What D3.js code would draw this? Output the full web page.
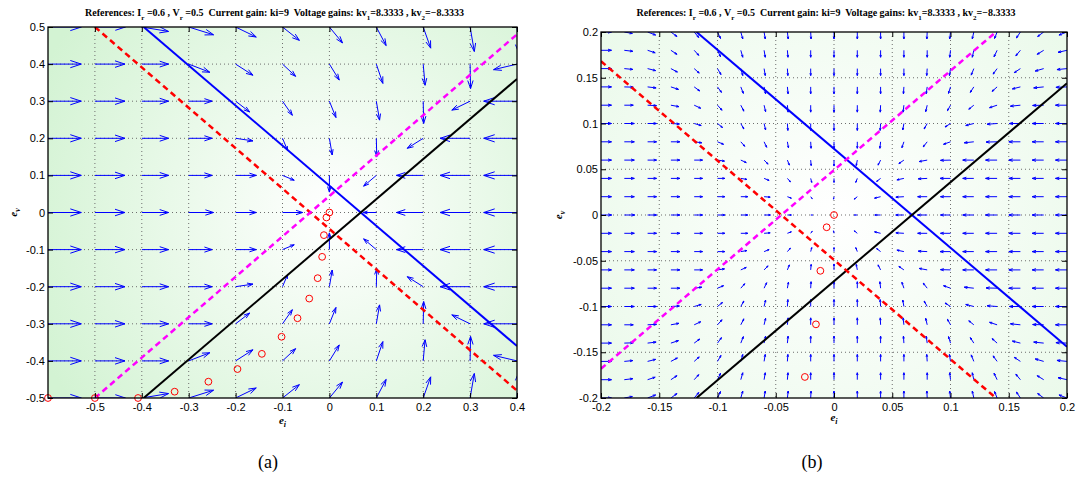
<!DOCTYPE html>
<html>
<head>
<meta charset="utf-8">
<script src="https://cdn.jsdelivr.net/npm/d3@7/dist/d3.min.js"></script>
<style>
  body { margin: 0; background: #ffffff; }
  svg { display: block; }
  text { white-space: pre; }
</style>
</head>
<body>
<svg id="fig" width="1076" height="477"></svg>
<script>
// ---------------------------------------------------------------
// Phase-plane data (error coordinates e_i, e_v)
// ---------------------------------------------------------------

// Panel (a): wide view
const xTicksA = [-0.5, -0.4, -0.3, -0.2, -0.1, 0, 0.1, 0.2, 0.3, 0.4];
const yTicksA = [-0.5, -0.4, -0.3, -0.2, -0.1, 0, 0.1, 0.2, 0.3, 0.4, 0.5];
const gridXA = [-0.6, -0.5, -0.4, -0.3, -0.2, -0.1, 0, 0.1, 0.2, 0.3, 0.4];
const gridYA = [0.5, 0.4, 0.3, 0.2, 0.1, 0, -0.1, -0.2, -0.3, -0.4, -0.5];
// field components at the grid nodes (units of 0.01), rows top to bottom
const fieldUA = [
  [7.1, 6.5, 5.7, 5.3, 4.4, 3.6, 2.8, 2.1, 1.6, 0.9, 0.4],
  [7.1, 6.4, 5.7, 4.5, 3.7, 2.8, 2.1, 1.4, 0.4, 0.1, -5.0],
  [7.1, 6.4, 5.7, 5.0, 3.0, 2.1, 1.4, 0.7, 0.1, -3.9, -7.1],
  [7.1, 6.4, 5.7, 5.0, 3.7, 1.1, 0.6, 0.1, -3.4, -6.4, -7.1],
  [7.1, 6.4, 5.7, 5.0, 4.4, 2.5, 0, -2.7, -5.7, -6.4, -7.1],
  [7.1, 6.4, 5.7, 5.3, 4.4, 4.3, 0, -2.8, -5.7, -6.4, -7.1],
  [7.1, 6.4, 5.7, 5.0, 4.4, 2.5, 0, -2.7, -5.7, -6.4, -7.1],
  [7.1, 6.4, 5.7, 5.0, 3.7, 1.1, 0.6, 0.1, -3.4, -6.4, -7.1],
  [7.1, 6.4, 5.7, 5.0, 3.0, 2.1, 1.4, 0.7, 0.1, -3.9, -7.1],
  [7.1, 6.4, 5.7, 4.5, 3.7, 2.8, 2.1, 1.4, 0.4, 0.1, -5.0],
  [7.1, 6.5, 5.7, 5.3, 4.4, 3.6, 2.8, 2.1, 1.6, 0.9, 0.4]
];
const fieldVA = [
  [0, 0, -1.2, -2.1, -2.7, -3.6, -4.3, -5.0, -5.7, -6.6, -7.0],
  [0, 0, 0, -2.2, -3.0, -3.3, -4.3, -5.2, -5.7, -6.6, -1.5],
  [0, 0, 0, 0, -2.9, -3.8, -4.4, -5.1, -6.0, -2.4, 0],
  [0, 0, 0, 0, -0.7, -3.3, -4.5, -4.9, -2.7, 0, 0],
  [0, 0, 0, 0, 0, -1.3, -4.5, -2.9, 0, 0, 0],
  [0, 0, 0, 0, 0, 0, 0, 0, 0, 0, 0],
  [0, 0, 0, 0, 0, 1.3, 4.5, 2.9, 0, 0, 0],
  [0, 0, 0, 0, 0.7, 3.3, 4.5, 4.9, 2.7, 0, 0],
  [0, 0, 0, 0, 2.9, 3.8, 4.4, 5.1, 6.0, 2.4, 0],
  [0, 0, 0, 2.2, 3.0, 3.3, 4.3, 5.2, 5.7, 6.6, 1.5],
  [0, 0, 1.2, 2.1, 2.7, 3.6, 4.3, 5.0, 5.7, 6.6, 7.0]
];

// Panel (b): close-up around the origin
const xTicksB = [-0.2, -0.15, -0.1, -0.05, 0, 0.05, 0.1, 0.15, 0.2];
const yTicksB = [-0.2, -0.15, -0.1, -0.05, 0, 0.05, 0.1, 0.15, 0.2];
const gridXB = [-0.2, -0.18, -0.16, -0.14, -0.12, -0.1, -0.08, -0.06, -0.04, -0.02, 0,
                0.02, 0.04, 0.06, 0.08, 0.1, 0.12, 0.14, 0.16, 0.18, 0.2];
const gridYB = [0.2, 0.18, 0.16, 0.14, 0.12, 0.1, 0.08, 0.06, 0.04, 0.02, 0,
                -0.02, -0.04, -0.06, -0.08, -0.1, -0.12, -0.14, -0.16, -0.18, -0.2];
// field components (units of 0.001), rows top to bottom
const fieldUB = [
  [9.0, 6.9, 6.9, 5.2, 3.9, 2.6, 1.7, 1.0, 0.7, 0.3, 0, 0, 0, 0, -0.3, -0.7, -1.3, -2.2, -3.4, -5.2, -6.9],
  [9.0, 7.3, 6.5, 5.2, 3.9, 2.6, 1.7, 1.0, 0.5, 0, 0, 0, 0, 0, 0, -0.7, -1.3, -2.6, -3.9, -5.6, -7.7],
  [9.0, 7.3, 6.9, 5.6, 4.3, 3.0, 1.7, 1.0, 0.4, 0, 0, 0, 0, 0, -0.4, -0.9, -2.2, -3.4, -5.2, -7.3, -8.6],
  [9.0, 7.7, 7.3, 6.5, 4.7, 3.4, 2.2, 1.3, 0.6, 0, 0, 0, 0, -0.4, -0.9, -1.7, -3.0, -4.3, -6.9, -8.6, -9.5],
  [9.0, 7.7, 7.7, 6.9, 5.6, 3.9, 2.6, 1.3, 0.6, 0, 0, 0, -0.3, -0.7, -1.3, -2.6, -4.3, -6.5, -8.6, -9.5, -9.9],
  [9.0, 8.6, 7.7, 7.3, 6.0, 4.3, 2.6, 1.3, 0.4, 0, 0, 0, -0.4, -1.0, -2.6, -4.7, -6.9, -8.6, -9.5, -9.9, -9.9],
  [9.0, 8.6, 7.7, 7.7, 6.5, 5.2, 3.4, 2.2, 0.9, 0.3, 0, 0, -0.6, -1.7, -3.4, -6.0, -8.2, -9.5, -9.9, -9.9, -9.9],
  [9.0, 8.6, 7.7, 7.7, 7.2, 6.0, 4.7, 3.4, 1.7, 0.4, 0, -0.9, -2.2, -4.3, -6.9, -8.6, -9.5, -9.9, -9.9, -9.9, -9.9],
  [9.0, 8.6, 7.7, 7.7, 7.2, 6.3, 5.2, 4.3, 2.6, 0.9, 0, -1.3, -3.4, -6.0, -7.7, -9.0, -9.5, -9.9, -9.9, -9.9, -9.9],
  [9.0, 8.6, 7.7, 7.7, 7.2, 6.3, 6.0, 5.2, 3.4, 1.3, -0.4, -2.6, -5.2, -6.9, -8.2, -8.6, -9.5, -9.9, -9.9, -9.9, -9.9],
  [9.2, 9.0, 7.7, 7.7, 7.2, 6.3, 6.0, 5.4, 3.4, 1.5, 0, -2.5, -5.0, -7.0, -8.2, -8.6, -9.5, -9.9, -9.9, -9.9, -9.9],
  [9.0, 8.6, 7.7, 7.7, 7.2, 6.3, 6.0, 5.2, 3.4, 1.3, -0.4, -2.6, -5.2, -6.9, -8.2, -8.6, -9.5, -9.9, -9.9, -9.9, -9.9],
  [9.0, 8.6, 7.7, 7.7, 7.2, 6.3, 5.2, 4.3, 2.6, 0.9, 0, -1.3, -3.4, -6.0, -7.7, -9.0, -9.5, -9.9, -9.9, -9.9, -9.9],
  [9.0, 8.6, 7.7, 7.7, 7.2, 6.0, 4.7, 3.4, 1.7, 0.4, 0, -0.9, -2.2, -4.3, -6.9, -8.6, -9.5, -9.9, -9.9, -9.9, -9.9],
  [9.0, 8.6, 7.7, 7.7, 6.5, 5.2, 3.4, 2.2, 0.9, 0.3, 0, 0, -0.6, -1.7, -3.4, -6.0, -8.2, -9.5, -9.9, -9.9, -9.9],
  [9.0, 8.6, 7.7, 7.3, 6.0, 4.3, 2.6, 1.3, 0.4, 0, 0, 0, -0.4, -1.0, -2.6, -4.7, -6.9, -8.6, -9.5, -9.9, -9.9],
  [9.0, 7.7, 7.7, 6.9, 5.6, 3.9, 2.6, 1.3, 0.6, 0, 0, 0, -0.3, -0.7, -1.3, -2.6, -4.3, -6.5, -8.6, -9.5, -9.9],
  [9.0, 7.7, 7.3, 6.5, 4.7, 3.4, 2.2, 1.3, 0.6, 0, 0, 0, 0, -0.4, -0.9, -1.7, -3.0, -4.3, -6.9, -8.6, -9.5],
  [9.0, 7.3, 6.9, 5.6, 4.3, 3.0, 1.7, 1.0, 0.4, 0, 0, 0, 0, 0, -0.4, -0.9, -2.2, -3.4, -5.2, -7.3, -8.6],
  [9.0, 7.3, 6.5, 5.2, 3.9, 2.6, 1.7, 1.0, 0.5, 0, 0, 0, 0, 0, 0, -0.7, -1.3, -2.6, -3.9, -5.6, -7.7],
  [9.0, 6.9, 6.9, 5.2, 3.9, 2.6, 1.7, 1.0, 0.7, 0.3, 0, 0, 0, 0, -0.3, -0.7, -1.3, -2.2, -3.4, -5.2, -6.9]
];
const fieldVB = [
  [0, -1.6, -3.3, -4.9, -6.0, -7.1, -7.6, -7.6, -7.6, -7.6, -7.6, -7.6, -7.6, -7.6, -7.6, -7.6, -7.6, -7.1, -6.5, -4.9, -3.3],
  [0, -1.1, -2.7, -4.4, -5.5, -7.1, -7.6, -7.6, -7.6, -7.6, -7.6, -7.6, -7.6, -7.6, -7.6, -7.6, -7.6, -7.1, -6.0, -4.4, -2.2],
  [0, -0.9, -2.2, -3.8, -4.9, -6.5, -7.6, -7.6, -7.6, -7.6, -7.6, -7.6, -7.6, -7.6, -7.6, -7.6, -7.1, -6.0, -4.4, -2.7, -1.1],
  [0, -0.3, -1.1, -2.7, -4.4, -6.0, -7.1, -7.6, -7.6, -7.6, -7.6, -7.6, -7.6, -7.6, -7.6, -7.1, -6.0, -4.9, -2.2, -1.1, -0.5],
  [0, 0, -0.5, -1.6, -3.3, -5.5, -6.5, -7.1, -7.6, -7.6, -7.6, -7.6, -7.6, -7.6, -7.1, -6.0, -4.4, -2.7, -1.1, -0.3, 0],
  [0, 0, 0, -0.5, -2.2, -4.4, -6.0, -7.1, -7.6, -7.6, -7.6, -7.6, -7.6, -7.1, -6.0, -3.8, -2.2, -0.8, 0, 0, 0],
  [0, 0, 0, 0, -1.1, -2.7, -4.9, -6.0, -6.5, -7.1, -7.1, -7.1, -7.1, -6.5, -5.5, -2.7, -1.1, -0.3, 0, 0, 0],
  [0, 0, 0, 0, 0, -1.1, -2.7, -4.4, -5.5, -6.0, -6.5, -6.0, -5.5, -3.8, -1.6, -0.3, 0, 0, 0, 0, 0],
  [0, 0, 0, 0, 0, 0, -1.1, -2.2, -3.8, -4.4, -4.4, -4.4, -3.3, -1.6, -0.5, 0, 0, 0, 0, 0, 0],
  [0, 0, 0, 0, 0, 0, 0, -0.5, -1.6, -2.2, -2.7, -2.7, -1.6, -0.5, 0, 0, 0, 0, 0, 0, 0],
  [0, 0, 0, 0, 0, 0, 0, 0, 0, 0, 0, 0, 0, 0, 0, 0, 0, 0, 0, 0, 0],
  [0, 0, 0, 0, 0, 0, 0, 0.5, 1.6, 2.2, 2.7, 2.7, 1.6, 0.5, 0, 0, 0, 0, 0, 0, 0],
  [0, 0, 0, 0, 0, 0, 1.1, 2.2, 3.8, 4.4, 4.4, 4.4, 3.3, 1.6, 0.5, 0, 0, 0, 0, 0, 0],
  [0, 0, 0, 0, 0, 1.1, 2.7, 4.4, 5.5, 6.0, 6.5, 6.0, 5.5, 3.8, 1.6, 0.3, 0, 0, 0, 0, 0],
  [0, 0, 0, 0, 1.1, 2.7, 4.9, 6.0, 6.5, 7.1, 7.1, 7.1, 7.1, 6.5, 5.5, 2.7, 1.1, 0.3, 0, 0, 0],
  [0, 0, 0, 0.5, 2.2, 4.4, 6.0, 7.1, 7.6, 7.6, 7.6, 7.6, 7.6, 7.1, 6.0, 3.8, 2.2, 0.8, 0, 0, 0],
  [0, 0, 0.5, 1.6, 3.3, 5.5, 6.5, 7.1, 7.6, 7.6, 7.6, 7.6, 7.6, 7.6, 7.1, 6.0, 4.4, 2.7, 1.1, 0.3, 0],
  [0, 0.3, 1.1, 2.7, 4.4, 6.0, 7.1, 7.6, 7.6, 7.6, 7.6, 7.6, 7.6, 7.6, 7.6, 7.1, 6.0, 4.9, 2.2, 1.1, 0.5],
  [0, 0.9, 2.2, 3.8, 4.9, 6.5, 7.6, 7.6, 7.6, 7.6, 7.6, 7.6, 7.6, 7.6, 7.6, 7.6, 7.1, 6.0, 4.4, 2.7, 1.1],
  [0, 1.1, 2.7, 4.4, 5.5, 7.1, 7.6, 7.6, 7.6, 7.6, 7.6, 7.6, 7.6, 7.6, 7.6, 7.6, 7.6, 7.1, 6.0, 4.4, 2.2],
  [0, 1.6, 3.3, 4.9, 6.0, 7.1, 7.6, 7.6, 7.6, 7.6, 7.6, 7.6, 7.6, 7.6, 7.6, 7.6, 7.6, 7.1, 6.5, 4.9, 3.3]
];

// Switching boundaries, each given by two points [e_i, e_v]
const blueLineA    = [[-0.396, 0.5], [0.4, -0.36]];
const blackLineA   = [[-0.396, -0.5], [0.4, 0.36]];
const redLineA     = [[-0.5, 0.5], [0.4, -0.48]];
const magentaLineA = [[-0.5, -0.5], [0.4, 0.48]];
const blueLineB    = [[-0.118, 0.2], [0.2, -0.144]];
const blackLineB   = [[-0.118, -0.2], [0.2, 0.144]];
const redLineB     = [[-0.2, 0.168], [0.139, -0.2]];
const magentaLineB = [[-0.2, -0.168], [0.139, 0.2]];

// Sampled closed-loop trajectory [e_i, e_v]
const trajectory = [
  [-0.6, -0.5], [-0.5, -0.5], [-0.408, -0.5], [-0.33, -0.483], [-0.258, -0.456],
  [-0.196, -0.422], [-0.144, -0.381], [-0.102, -0.335], [-0.068, -0.285],
  [-0.043, -0.232], [-0.025, -0.177], [-0.0155, -0.1195], [-0.0117, -0.061],
  [-0.0063, -0.0134], [0, 0]
];

const titleParts = [
  ["References: I", false], ["r", true], [" =0.6 , V", false], ["r", true],
  [" =0.5  Current gain: ki=9  Voltage gains: kv", false], ["1", true],
  ["=8.3333 , kv", false], ["2", true], ["=\u22128.3333", false]
];

// ---------------------------------------------------------------
// Drawing
// ---------------------------------------------------------------
const svg = d3.select("#fig");
const defs = svg.append("defs");

const panels = [
  {
    id: "a", box: { left: 48, right: 517, top: 27, bottom: 398 },
    xDomain: [-0.6, 0.4], yDomain: [-0.5, 0.5],
    xTicks: xTicksA, yTicks: yTicksA,
    gx: gridXA, gy: gridYA, U: fieldUA, V: fieldVA, unit: 0.01,
    lines: { blue: blueLineA, black: blackLineA, red: redLineA, magenta: magentaLineA },
    shade: { r: 320, edge: "#d3f3d3" },
    caption: "(a)", captionX: 268, xlabY: 424, ylabOffset: 31
  },
  {
    id: "b", box: { left: 601, right: 1067, top: 32, bottom: 398 },
    xDomain: [-0.2, 0.2], yDomain: [-0.2, 0.2],
    xTicks: xTicksB, yTicks: yTicksB,
    gx: gridXB, gy: gridYB, U: fieldUB, V: fieldVB, unit: 0.001,
    lines: { blue: blueLineB, black: blackLineB, red: redLineB, magenta: magentaLineB },
    shade: { r: 330, edge: "#e8f9e8" },
    caption: "(b)", captionX: 812, xlabY: 421, ylabOffset: 39
  }
];

function fmtTick(d) {
  const s = d3.format("~g")(d);
  return s.replace("\u2212", "-");
}

function quiverPath(x0, y0, x1, y1) {
  const dx = x1 - x0, dy = y1 - y0;
  const a = 0.33, b = 0.33;
  const hx1 = x1 - a * (dx + b * dy), hy1 = y1 - a * (dy - b * dx);
  const hx2 = x1 - a * (dx - b * dy), hy2 = y1 - a * (dy + b * dx);
  return `M${x0},${y0}L${x1},${y1}M${hx1},${hy1}L${x1},${y1}L${hx2},${hy2}`;
}

panels.forEach(p => {
  const B = p.box;
  const x = d3.scaleLinear().domain(p.xDomain).range([B.left, B.right]);
  const y = d3.scaleLinear().domain(p.yDomain).range([B.bottom, B.top]);
  const g = svg.append("g");

  // clip region
  defs.append("clipPath").attr("id", "clip-" + p.id)
    .append("rect").attr("x", B.left).attr("y", B.top)
    .attr("width", B.right - B.left).attr("height", B.bottom - B.top);

  // radial background shading around the origin
  const grad = defs.append("radialGradient").attr("id", "shade-" + p.id)
    .attr("gradientUnits", "userSpaceOnUse")
    .attr("cx", x(0)).attr("cy", y(0)).attr("r", p.shade.r);
  grad.append("stop").attr("offset", 0).attr("stop-color", "#ffffff");
  grad.append("stop").attr("offset", 1).attr("stop-color", p.shade.edge);
  g.append("rect").attr("x", B.left).attr("y", B.top)
    .attr("width", B.right - B.left).attr("height", B.bottom - B.top)
    .attr("fill", `url(#shade-${p.id})`);

  // dotted grid
  const grid = g.append("g").attr("stroke", "#6e6e6e").attr("stroke-width", 1)
    .attr("stroke-dasharray", "1,3");
  p.xTicks.filter(t => t > p.xDomain[0] + 1e-9 && t < p.xDomain[1] - 1e-9).forEach(t => {
    grid.append("line").attr("x1", x(t)).attr("x2", x(t)).attr("y1", B.top).attr("y2", B.bottom);
  });
  p.yTicks.filter(t => t > p.yDomain[0] + 1e-9 && t < p.yDomain[1] - 1e-9).forEach(t => {
    grid.append("line").attr("y1", y(t)).attr("y2", y(t)).attr("x1", B.left).attr("x2", B.right);
  });

  // quiver arrows
  const arrows = [];
  p.gy.forEach((yv, r) => p.gx.forEach((xv, c) => {
    const u = p.U[r][c], v = p.V[r][c];
    if (u !== 0 || v !== 0) arrows.push({ xv, yv, u, v });
  }));
  g.append("g").attr("clip-path", `url(#clip-${p.id})`)
    .selectAll("path").data(arrows).join("path")
    .attr("d", d => quiverPath(x(d.xv), y(d.yv), x(d.xv + d.u * p.unit), y(d.yv + d.v * p.unit)))
    .attr("fill", "none").attr("stroke", "#0000ff").attr("stroke-width", 1);

  // switching lines
  const lg = g.append("g").attr("clip-path", `url(#clip-${p.id})`).attr("fill", "none");
  const line = d3.line().x(d => x(d[0])).y(d => y(d[1]));
  lg.append("path").attr("d", line(p.lines.blue)).attr("stroke", "#0000ff").attr("stroke-width", 2);
  lg.append("path").attr("d", line(p.lines.black)).attr("stroke", "#000000").attr("stroke-width", 2);
  lg.append("path").attr("d", line(p.lines.red)).attr("stroke", "#ff0000").attr("stroke-width", 2.5)
    .attr("stroke-dasharray", "6,4");
  lg.append("path").attr("d", line(p.lines.magenta)).attr("stroke", "#ff00ff").attr("stroke-width", 2.5)
    .attr("stroke-dasharray", "6,4");

  // trajectory samples that fall inside the axes
  const inside = trajectory.filter(d =>
    d[0] >= p.xDomain[0] - 1e-9 && d[0] <= p.xDomain[1] + 1e-9 &&
    d[1] >= p.yDomain[0] - 1e-9 && d[1] <= p.yDomain[1] + 1e-9);
  g.append("g").selectAll("circle").data(inside).join("circle")
    .attr("cx", d => x(d[0])).attr("cy", d => y(d[1])).attr("r", 3.4)
    .attr("fill", "none").attr("stroke", "#ff0000").attr("stroke-width", 1);

  // axes (ticks point inward on all four sides)
  const tickFont = g2 => g2.selectAll("text")
    .attr("font-family", "Liberation Sans, Arial, sans-serif").attr("font-size", 11).attr("fill", "#000");
  const axB = g.append("g").attr("transform", `translate(0,${B.bottom})`)
    .call(d3.axisBottom(x).tickValues(p.xTicks).tickFormat(fmtTick).tickSizeInner(-5).tickSizeOuter(0).tickPadding(5));
  const axL = g.append("g").attr("transform", `translate(${B.left},0)`)
    .call(d3.axisLeft(y).tickValues(p.yTicks).tickFormat(fmtTick).tickSizeInner(-5).tickSizeOuter(0).tickPadding(3));
  const axT = g.append("g").attr("transform", `translate(0,${B.top})`)
    .call(d3.axisTop(x).tickValues(p.xTicks).tickFormat("").tickSizeInner(-5).tickSizeOuter(0));
  const axR = g.append("g").attr("transform", `translate(${B.right},0)`)
    .call(d3.axisRight(y).tickValues(p.yTicks).tickFormat("").tickSizeInner(-5).tickSizeOuter(0));
  [axB, axL, axT, axR].forEach(a => {
    a.call(tickFont);
    a.select(".domain").remove();
    a.selectAll("line").attr("stroke", "#000");
  });
  g.append("rect").attr("x", B.left).attr("y", B.top)
    .attr("width", B.right - B.left).attr("height", B.bottom - B.top)
    .attr("fill", "none").attr("stroke", "#000").attr("stroke-width", 1.3);

  // title
  const cx = (B.left + B.right) / 2;
  const title = g.append("text").attr("x", cx - 8).attr("y", 16).attr("text-anchor", "middle")
    .attr("font-family", "Liberation Serif, Times New Roman, serif").attr("font-weight", "bold")
    .attr("font-size", 10).attr("fill", "#000");
  titleParts.forEach(([s, sub]) => {
    title.append("tspan").attr("font-size", sub ? 7 : 10).attr("dy", sub ? 4 : 0).text(s)
      .each(function () { if (sub) d3.select(this).attr("data-sub", 1); });
  });
  // restore baseline after each subscript
  title.selectAll("tspan").each(function (d, i, nodes) {
    if (i > 0 && nodes[i - 1].getAttribute("data-sub") && !this.getAttribute("data-sub"))
      d3.select(this).attr("dy", -4);
  });

  // axis labels
  const lab = (sel, main, sub) => {
    sel.attr("font-family", "Liberation Serif, Times New Roman, serif").attr("font-style", "italic")
      .attr("font-weight", "bold").attr("font-size", 11).attr("fill", "#000");
    sel.append("tspan").text(main);
    sel.append("tspan").attr("font-size", 8).attr("dy", 3).text(sub);
  };
  lab(g.append("text").attr("x", cx).attr("y", p.xlabY).attr("text-anchor", "middle"), "e", "i");
  lab(g.append("text").attr("text-anchor", "middle")
    .attr("transform", `translate(${B.left - p.ylabOffset},${(B.top + B.bottom) / 2}) rotate(-90)`), "e", "v");

  // panel caption
  g.append("text").attr("x", p.captionX).attr("y", 468).attr("text-anchor", "middle")
    .attr("font-family", "Liberation Serif, Times New Roman, serif").attr("font-size", 18)
    .attr("fill", "#000").text(p.caption);
});
</script>
</body>
</html>
